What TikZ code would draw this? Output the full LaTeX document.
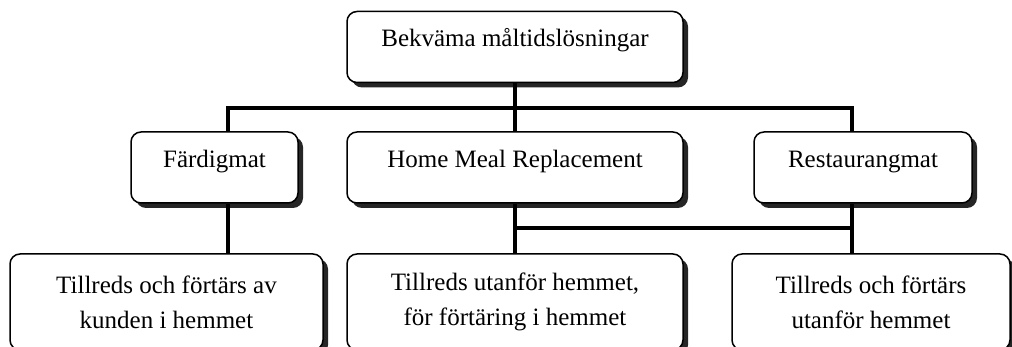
\documentclass[tikz,border=0pt]{standalone}
\usepackage{fontspec}
\setmainfont{Liberation Serif}
\usetikzlibrary{shadows}
\begin{document}
\begin{tikzpicture}[x=1pt,y=-1pt,
    basebox/.style={draw,line width=1.5pt,rounded corners=10pt,fill=white,inner sep=0pt,
      drop shadow={shadow xshift=5pt,shadow yshift=-5pt,fill=black!85,opacity=1},
      font=\fontsize{25}{35}\selectfont},
    box/.style={basebox,minimum height=71pt,text height=16pt,text depth=16pt},
    lowbox/.style={basebox,minimum height=96pt,align=center},
    link/.style={line width=3.5pt}]
    \useasboundingbox (0,0) rectangle (1012,347);
    % boxes
    \node[box,minimum width=336pt] (top) at (515,47) {Bekväma måltidslösningar};
    \node[box,minimum width=167pt] (fard) at (214.5,167.5) {Färdigmat};
    \node[box,minimum width=336pt] (hmr) at (515,167.5) {Home Meal Replacement};
    \node[box,minimum width=218pt] (rest) at (863,167.5) {Restaurangmat};
    \node[lowbox,minimum width=313pt] (kund) at (166.5,302) {Tillreds och förtärs av\\kunden i hemmet};
    \node[lowbox,minimum width=336pt] (utan) at (515,302) {Tillreds utanför hemmet,\\för förtäring i hemmet};
    \node[lowbox,minimum width=278pt] (rutan) at (871,302) {Tillreds och förtärs\\utanför hemmet};
    % connectors
    \coordinate (b1) at (228,108); \coordinate (b2) at (515,108); \coordinate (b3) at (852,108);
    \coordinate (c2) at (515,228); \coordinate (c3) at (852,228);
    \draw[link] (top) -- (b2);
    \draw[link] (b1 |- fard.north) -- (b1) -- (b3) -- (b3 |- rest.north);
    \draw[link] (b2) -- (hmr);
    \draw[link] (b1 |- fard.south) -- (b1 |- kund.north);
    \draw[link] (hmr) -- (utan); \draw[link] (c2) -- (c3);
    \draw[link] (b3 |- rest.south) -- (b3 |- rutan.north);
  \end{tikzpicture}
\end{document}
